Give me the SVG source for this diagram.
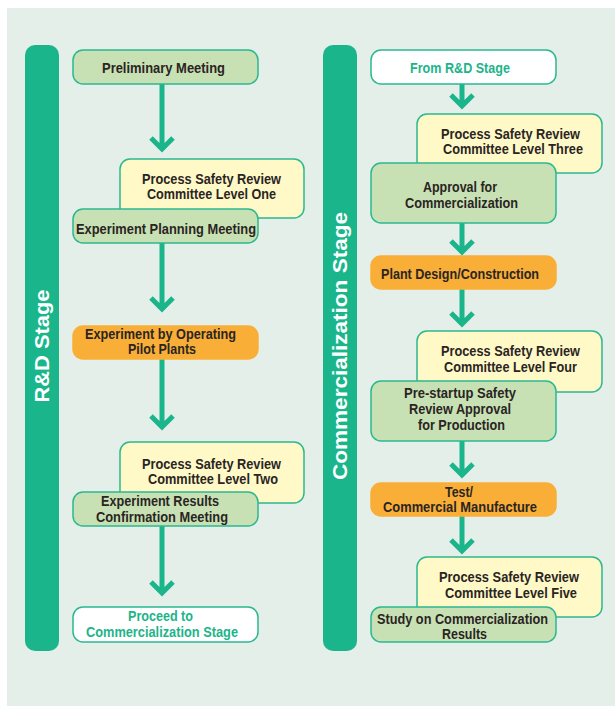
<svg xmlns="http://www.w3.org/2000/svg" width="615" height="706" viewBox="0 0 615 706">
<style>
.bg{fill:#e5efea}
.bar{fill:#1ab58b}
.box{stroke:#2bb890;stroke-width:1.5}
.g{fill:#c8e1b4}
.y{fill:#fff9c8}
.o{fill:#f9ae37;stroke:#f9ae37}
.w{fill:#ffffff}
.t{font-family:"Liberation Sans Narrow","Liberation Sans",Arial,sans-serif;font-weight:bold;font-size:15px;fill:#2a2523;text-anchor:middle}
.tt{fill:#1db48a}
.st{font-family:"Liberation Sans",Arial,sans-serif;font-weight:bold;font-size:20px;fill:#ffffff;text-anchor:middle}
.arr{fill:none;stroke:#1ab58b;stroke-width:5;stroke-linejoin:miter}
</style>
<rect class="bg" x="7" y="8" width="608" height="698"/>
<g id="rd-stage">
<rect class="bar" x="25" y="45" width="34" height="606" rx="10"/>
<text class="st" transform="translate(49,346) rotate(-90)" textLength="113" lengthAdjust="spacingAndGlyphs">R&amp;D Stage</text>
</g>
<g id="comm-stage">
<rect class="bar" x="323" y="45" width="34" height="606" rx="10"/>
<text class="st" transform="translate(347,346) rotate(-90)" textLength="268" lengthAdjust="spacingAndGlyphs">Commercialization Stage</text>
</g>
<g id="connectors">
<path class="arr" d="M162 84V150M151 138L162 149L173 138"/>
<path class="arr" d="M162 243V310M151 298L162 309L173 298"/>
<path class="arr" d="M162 359V428M151 416L162 427L173 416"/>
<path class="arr" d="M162 526V594M151 582L162 593L173 582"/>
<path class="arr" d="M462 84V107M451 95L462 106L473 95"/>
<path class="arr" d="M462 223V253M451 241L462 252L473 241"/>
<path class="arr" d="M462 289V325M451 313L462 324L473 313"/>
<path class="arr" d="M462 441V476M451 464L462 475L473 464"/>
<path class="arr" d="M462 516V552M451 540L462 551L473 540"/>
</g>
<g id="preliminary-meeting">
<rect class="box g" x="73" y="50" width="185" height="34" rx="10"/>
<text class="t" x="163.5" y="73" textLength="123" lengthAdjust="spacingAndGlyphs">Preliminary Meeting</text>
</g>
<g id="psrc-level-one">
<rect class="box y" x="120" y="159" width="184" height="59" rx="10"/>
<text class="t" x="211.5" y="184" textLength="139" lengthAdjust="spacingAndGlyphs">Process Safety Review</text>
<text class="t" x="211.5" y="199" textLength="129" lengthAdjust="spacingAndGlyphs">Committee Level One</text>
</g>
<g id="experiment-planning-meeting">
<rect class="box g" x="73" y="209" width="185" height="34" rx="10"/>
<text class="t" x="166" y="234" textLength="180" lengthAdjust="spacingAndGlyphs">Experiment Planning Meeting</text>
</g>
<g id="experiment-pilot-plants">
<rect class="box o" x="73" y="326" width="185" height="33" rx="10"/>
<text class="t" x="160.5" y="339" textLength="151" lengthAdjust="spacingAndGlyphs">Experiment by Operating</text>
<text class="t" x="162" y="354" textLength="68" lengthAdjust="spacingAndGlyphs">Pilot Plants</text>
</g>
<g id="psrc-level-two">
<rect class="box y" x="120" y="442" width="184" height="61" rx="10"/>
<text class="t" x="211.5" y="469" textLength="139" lengthAdjust="spacingAndGlyphs">Process Safety Review</text>
<text class="t" x="213" y="484" textLength="130" lengthAdjust="spacingAndGlyphs">Committee Level Two</text>
</g>
<g id="experiment-results-meeting">
<rect class="box g" x="73" y="492" width="185" height="34" rx="10"/>
<text class="t" x="160" y="506" textLength="118" lengthAdjust="spacingAndGlyphs">Experiment Results</text>
<text class="t" x="162" y="522" textLength="132" lengthAdjust="spacingAndGlyphs">Confirmation Meeting</text>
</g>
<g id="proceed-to-commercialization">
<rect class="box w" x="73" y="607" width="185" height="35" rx="10"/>
<text class="t tt" x="160.5" y="621" textLength="65" lengthAdjust="spacingAndGlyphs">Proceed to</text>
<text class="t tt" x="162" y="637" textLength="152" lengthAdjust="spacingAndGlyphs">Commercialization Stage</text>
</g>
<g id="from-rd-stage">
<rect class="box w" x="371" y="50" width="185" height="34" rx="10"/>
<text class="t tt" x="460" y="73" textLength="100" lengthAdjust="spacingAndGlyphs">From R&amp;D Stage</text>
</g>
<g id="psrc-level-three">
<rect class="box y" x="417" y="114" width="185" height="59" rx="10"/>
<text class="t" x="510.5" y="139" textLength="139" lengthAdjust="spacingAndGlyphs">Process Safety Review</text>
<text class="t" x="513" y="154" textLength="140" lengthAdjust="spacingAndGlyphs">Committee Level Three</text>
</g>
<g id="approval-commercialization">
<rect class="box g" x="371" y="163" width="185" height="60" rx="10"/>
<text class="t" x="460" y="192" textLength="74" lengthAdjust="spacingAndGlyphs">Approval for</text>
<text class="t" x="461.5" y="208" textLength="113" lengthAdjust="spacingAndGlyphs">Commercialization</text>
</g>
<g id="plant-design-construction">
<rect class="box o" x="371" y="256" width="185" height="33" rx="10"/>
<text class="t" x="460" y="279" textLength="158" lengthAdjust="spacingAndGlyphs">Plant Design/Construction</text>
</g>
<g id="psrc-level-four">
<rect class="box y" x="417" y="331" width="185" height="61" rx="10"/>
<text class="t" x="510.5" y="356" textLength="139" lengthAdjust="spacingAndGlyphs">Process Safety Review</text>
<text class="t" x="510.5" y="372" textLength="133" lengthAdjust="spacingAndGlyphs">Committee Level Four</text>
</g>
<g id="pre-startup-approval">
<rect class="box g" x="371" y="381" width="185" height="60" rx="10"/>
<text class="t" x="460" y="398" textLength="112" lengthAdjust="spacingAndGlyphs">Pre-startup Safety</text>
<text class="t" x="460" y="414" textLength="102" lengthAdjust="spacingAndGlyphs">Review Approval</text>
<text class="t" x="461.5" y="430" textLength="87" lengthAdjust="spacingAndGlyphs">for Production</text>
</g>
<g id="test-commercial-manufacture">
<rect class="box o" x="371" y="483" width="185" height="33" rx="10"/>
<text class="t" x="459" y="497" textLength="28" lengthAdjust="spacingAndGlyphs">Test/</text>
<text class="t" x="460" y="512" textLength="154" lengthAdjust="spacingAndGlyphs">Commercial Manufacture</text>
</g>
<g id="psrc-level-five">
<rect class="box y" x="417" y="557" width="185" height="60" rx="10"/>
<text class="t" x="509" y="582" textLength="140" lengthAdjust="spacingAndGlyphs">Process Safety Review</text>
<text class="t" x="511" y="598" textLength="132" lengthAdjust="spacingAndGlyphs">Committee Level Five</text>
</g>
<g id="study-commercialization-results">
<rect class="box g" x="371" y="607" width="185" height="35" rx="10"/>
<text class="t" x="462.5" y="624" textLength="171" lengthAdjust="spacingAndGlyphs">Study on Commercialization</text>
<text class="t" x="464.5" y="639" textLength="45" lengthAdjust="spacingAndGlyphs">Results</text>
</g>
</svg>
